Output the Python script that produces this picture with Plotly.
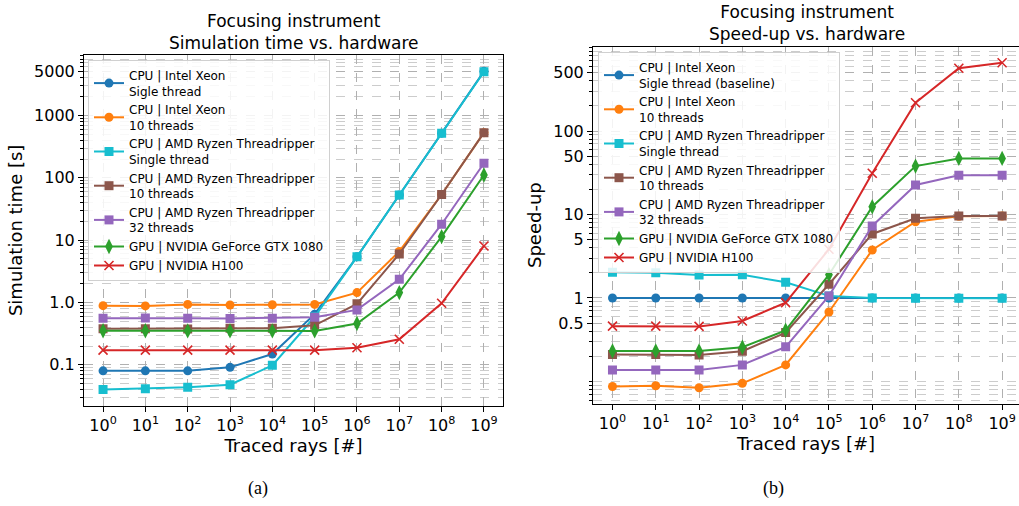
import plotly.graph_objects as go

rays = [1e0, 1e1, 1e2, 1e3, 1e4, 1e5, 1e6, 1e7, 1e8, 1e9]
xtick_vals = rays
xtick_text = ["10<sup>%d</sup>" % i for i in range(10)]

# Simulation time [s]
t_xeon_1 = [0.080, 0.080, 0.080, 0.091, 0.149, 0.65, 5.4, 53, 520, 5100]
t_xeon_10 = [0.89, 0.88, 0.93, 0.91, 0.92, 0.93, 1.44, 6.6, 54, 530]
t_amd_1 = [0.040, 0.0412, 0.0436, 0.048, 0.098, 0.59, 5.4, 53, 518, 5030]
t_amd_10 = [0.38, 0.38, 0.375, 0.385, 0.385, 0.43, 0.95, 6.0, 54, 530]
t_amd_32 = [0.56, 0.565, 0.56, 0.555, 0.56, 0.58, 0.76, 2.35, 18, 171]
t_gtx = [0.352, 0.352, 0.35, 0.35, 0.35, 0.35, 0.46, 1.44, 11.4, 111]
t_h100 = [0.172, 0.172, 0.172, 0.172, 0.172, 0.172, 0.188, 0.257, 0.97, 8.05]

# Speed-up
s_xeon_1 = [1, 1, 1, 1, 1, 1, 1, 1, 1, 1]
s_xeon_10 = [0.087, 0.089, 0.084, 0.095, 0.158, 0.68, 3.76, 8.2, 9.5, 9.6]
s_amd_1 = [2.03, 2.01, 1.89, 1.9, 1.54, 1.06, 1.0, 0.99, 0.99, 0.99]
s_amd_10 = [0.21, 0.21, 0.207, 0.23, 0.385, 1.46, 5.85, 9.0, 9.6, 9.6]
s_amd_32 = [0.137, 0.137, 0.137, 0.158, 0.26, 1.06, 7.3, 22.6, 29.5, 29.5]
s_gtx = [0.232, 0.232, 0.232, 0.257, 0.41, 1.9, 12.4, 38, 47, 47]
s_h100 = [0.46, 0.46, 0.457, 0.53, 0.88, 3.84, 31.2, 218, 564, 658]

left_names = ["CPU | Intel Xeon<br>Sigle thread", "CPU | Intel Xeon<br>10 threads",
              "CPU | AMD Ryzen Threadripper<br>Single thread",
              "CPU | AMD Ryzen Threadripper<br>10 threads",
              "CPU | AMD Ryzen Threadripper<br>32 threads",
              "GPU | NVIDIA GeForce GTX 1080", "GPU | NVIDIA H100"]
right_names = ["CPU | Intel Xeon<br>Sigle thread (baseline)"] + left_names[1:]

colors = ["#1f77b4", "#ff7f0e", "#17becf", "#8c564b", "#9467bd", "#2ca02c", "#d62728"]
symbols = ["circle", "circle", "square", "square", "square", "diamond-tall", "x-thin"]
sizes = [9, 9, 9, 9, 9, 11, 9]

left_series = [t_xeon_1, t_xeon_10, t_amd_1, t_amd_10, t_amd_32, t_gtx, t_h100]
right_series = [s_xeon_1, s_xeon_10, s_amd_1, s_amd_10, s_amd_32, s_gtx, s_h100]

# the page body margin is removed (post_script), so figure pixels == window pixels
W = 1019
H = 506


def fx(px):
    return px / W


def fy(py):
    return 1 - py / H


fig = go.Figure()
FONT = "DejaVu Sans"


def marker(i):
    m = dict(symbol=symbols[i], size=sizes[i], color=colors[i])
    if symbols[i] == "x-thin":
        m["line"] = dict(width=1.6, color=colors[i])
    else:
        m["line"] = dict(width=0)
    return m


for i, ys in enumerate(left_series):
    fig.add_trace(go.Scatter(x=rays, y=ys, mode="lines+markers", name=left_names[i],
                             line=dict(color=colors[i], width=2), marker=marker(i),
                             xaxis="x", yaxis="y", legend="legend"))
for i, ys in enumerate(right_series):
    fig.add_trace(go.Scatter(x=rays, y=ys, mode="lines+markers", name=right_names[i],
                             line=dict(color=colors[i], width=2), marker=marker(i),
                             xaxis="x2", yaxis="y2", legend="legend2"))

grid = dict(showgrid=True, gridcolor="#b0b0b0", griddash="dash", gridwidth=1)
minor = dict(ticks="outside", ticklen=3, tickcolor="#000", showgrid=True,
             gridcolor="#cccccc", griddash="dash", gridwidth=1, dtick="D1")
axcommon = dict(type="log", showline=True, linecolor="#000", linewidth=1, mirror=True,
                ticks="outside", ticklen=5, tickcolor="#000", zeroline=False, automargin=False,
                tickfont=dict(family=FONT, size=16, color="#000"), **grid)

legend_common = dict(xanchor="left", yanchor="top",
                     bgcolor="rgba(255,255,255,0.85)", bordercolor="#d0d0d0", borderwidth=1,
                     font=dict(family=FONT, size=12, color="#000"), tracegroupgap=0,
                     itemwidth=30)

fig.update_layout(
    width=W, height=H,
    margin=dict(l=0, r=0, t=0, b=0, autoexpand=False),
    paper_bgcolor="white", plot_bgcolor="white",
    font=dict(family=FONT, color="#000"),
    showlegend=True,
    xaxis=dict(domain=[fx(84), fx(503)], range=[-0.45, 9.45],
               tickvals=xtick_vals, ticktext=xtick_text, anchor="y",
               title=dict(text="Traced rays [#]", font=dict(family=FONT, size=18), standoff=2),
               **axcommon),
    yaxis=dict(domain=[fy(405.7), fy(55)], range=[-1.656, 3.97],
               tickvals=[0.1, 1, 10, 100, 1000, 5000],
               ticktext=["0.1", "1.0", "10", "100", "1000", "5000"], anchor="x",
               minor=minor,
               title=dict(text="Simulation time [s]", font=dict(family=FONT, size=18), standoff=6),
               **axcommon),
    xaxis2=dict(domain=[fx(593), 1.0], range=[-0.45, 9.39],
                tickvals=xtick_vals, ticktext=xtick_text, anchor="y2",
                title=dict(text="Traced rays [#]", font=dict(family=FONT, size=18), standoff=2),
                **axcommon),
    yaxis2=dict(domain=[fy(403.6), fy(46.7)], range=[-1.265, 3.01],
                tickvals=[0.5, 1, 5, 10, 50, 100, 500],
                ticktext=["0.5", "1", "5", "10", "50", "100", "500"], anchor="x2",
                minor=minor,
                title=dict(text="Speed-up", font=dict(family=FONT, size=18), standoff=6),
                **axcommon),
    legend=dict(x=fx(88), y=fy(60), **legend_common),
    legend2=dict(x=fx(598), y=fy(52), **legend_common),
)

annotations = [
    dict(text="Focusing instrument<br>Simulation time vs. hardware", x=fx(293.5), y=fy(32.3),
         xref="paper", yref="paper", showarrow=False, xanchor="center", yanchor="middle",
         font=dict(family=FONT, size=17, color="#000")),
    dict(text="Focusing instrument<br>Speed-up vs. hardware", x=fx(807), y=fy(23),
         xref="paper", yref="paper", showarrow=False, xanchor="center", yanchor="middle",
         font=dict(family=FONT, size=17, color="#000")),
    dict(text="(a)", x=fx(258), y=fy(488), xref="paper", yref="paper", showarrow=False,
         xanchor="center", yanchor="middle", font=dict(family="Liberation Serif", size=18, color="#000")),
    dict(text="(b)", x=fx(773), y=fy(488), xref="paper", yref="paper", showarrow=False,
         xanchor="center", yanchor="middle", font=dict(family="Liberation Serif", size=18, color="#000")),
]
fig.update_layout(annotations=annotations)

fig.write_html("out.html", config={"displayModeBar": False},
               post_script="document.body.style.margin='0';")
